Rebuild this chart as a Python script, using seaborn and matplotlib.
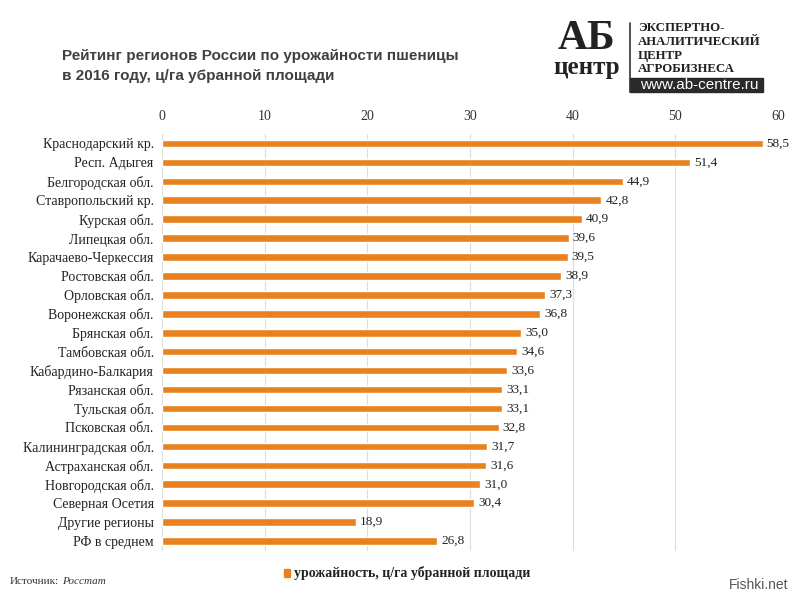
import pandas as pd
import matplotlib.pyplot as plt
import seaborn as sns
from matplotlib.patches import Rectangle

# Data
regions = ['Краснодарский кр.', 'Респ. Адыгея', 'Белгородская обл.', 'Ставропольский кр.',
           'Курская обл.', 'Липецкая обл.', 'Карачаево-Черкессия', 'Ростовская обл.',
           'Орловская обл.', 'Воронежская обл.', 'Брянская обл.', 'Тамбовская обл.',
           'Кабардино-Балкария', 'Рязанская обл.', 'Тульская обл.', 'Псковская обл.',
           'Калининградская обл.', 'Астраханская обл.', 'Новгородская обл.', 'Северная Осетия',
           'Другие регионы', 'РФ в среднем']
yields = [58.5, 51.4, 44.9, 42.8, 40.9, 39.6, 39.5, 38.9, 37.3, 36.8, 35.0, 34.6,
          33.6, 33.1, 33.1, 32.8, 31.7, 31.6, 31.0, 30.4, 18.9, 26.8]
x_ticks = [0, 10, 20, 30, 40, 50, 60]

df = pd.DataFrame({'Регион': regions, 'Урожайность': yields})

sns.set_style('white')
plt.rcParams['font.family'] = ['Liberation Serif', 'DejaVu Serif']

orange = '#E8821E'
fig = plt.figure(figsize=(8, 6), dpi=100)
ax = fig.add_axes([0.2025, 0.0825, 0.77, 0.6942])

sns.barplot(data=df, x='Урожайность', y='Регион', color=orange, width=0.4,
            saturation=1, ax=ax, zorder=3)

ax.set_xlim(0, 60)
ax.set_xticks(x_ticks)
ax.xaxis.tick_top()
ax.tick_params(axis='x', length=0, labelsize=10, colors='#333333', pad=8)
ax.tick_params(axis='y', length=0, labelsize=10, colors='#222222', pad=6)
ax.grid(axis='x', color='#dddddd', linewidth=0.8, zorder=0)
ax.set_xlabel('')
ax.set_ylabel('')
for s in ax.spines.values():
    s.set_visible(False)

for i, v in enumerate(yields):
    ax.text(v + 0.4, i, f'{v:.1f}'.replace('.', ','), va='center', ha='left',
            fontsize=9.5, color='#222222')

# Title
fig.text(0.077, 0.89, 'Рейтинг регионов России по урожайности пшеницы\nв 2016 году, ц/га убранной площади',
         family='Liberation Sans', fontweight='bold', fontsize=11, color='#404040',
         va='center', ha='left', linespacing=1.5)

# Logo
fig.text(0.733, 0.935, 'АБ', family='Liberation Serif', fontweight='bold', fontsize=30,
         color='#222222', ha='center', va='center')
fig.text(0.733, 0.888, 'центр', family='Liberation Serif', fontweight='bold', fontsize=18,
         color='#222222', ha='center', va='center')
fig.add_artist(plt.Line2D([0.7875, 0.7875], [0.847, 0.962], color='#333333', lw=1.2))
fig.text(0.797, 0.919, 'ЭКСПЕРТНО-\nАНАЛИТИЧЕСКИЙ\nЦЕНТР\nАГРОБИЗНЕСА',
         family='Liberation Serif', fontweight='bold', fontsize=9.3, color='#222222',
         ha='left', va='center', linespacing=1.2)
fig.add_artist(Rectangle((0.7875, 0.847), 0.166, 0.0235, transform=fig.transFigure,
                         color='#2a2a2a'))
fig.text(0.8745, 0.8585, 'www.ab-centre.ru', family='Liberation Sans', fontsize=11,
         color='white', ha='center', va='center')

# Legend
fig.add_artist(Rectangle((0.355, 0.039), 0.008, 0.012, transform=fig.transFigure,
                         color=orange))
fig.text(0.367, 0.045, 'урожайность, ц/га убранной площади', fontweight='bold',
         fontsize=10, color='#222222', ha='left', va='center')

# Source
fig.text(0.012, 0.03, 'Источник:', fontsize=8, color='#333333', ha='left', va='center')
fig.text(0.077, 0.03, 'Росстат', fontsize=8, style='italic', color='#333333',
         ha='left', va='center')

# Watermark
fig.text(0.985, 0.025, 'Fishki.net', family='Liberation Sans', fontsize=10,
         color='#555555', ha='right', va='center')

fig.savefig('out.png', dpi=100, facecolor='white')
